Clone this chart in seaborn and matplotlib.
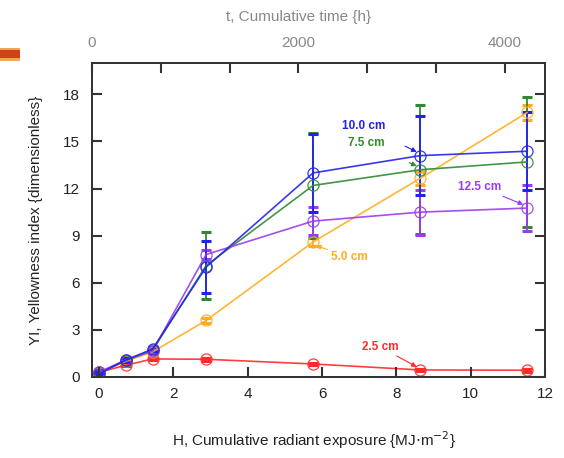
import numpy as np
import pandas as pd
import matplotlib
matplotlib.use("Agg")
import matplotlib.pyplot as plt
from matplotlib.patches import Rectangle
import seaborn as sns

# ---- data ----
H = [0.0, 0.72, 1.44, 2.88, 5.76, 8.64, 11.52]
series_names = ["2.5 cm", "5.0 cm", "7.5 cm", "12.5 cm", "10.0 cm"]
y_25 = [0.30, 0.75, 1.15, 1.13, 0.83, 0.45, 0.43]
e_25 = [0.05, 0.05, 0.08, 0.10, 0.08, 0.08, 0.08]
y_50 = [0.25, 1.00, 1.60, 3.60, 8.60, 12.65, 16.85]
e_50 = [0.10, 0.10, 0.10, 0.15, 0.25, 0.45, 0.45]
y_75 = [0.30, 1.05, 1.70, 7.10, 12.20, 13.20, 13.70]
e_75 = [0.10, 0.10, 0.15, 2.15, 3.35, 4.10, 4.15]
y_125 = [0.30, 1.10, 1.65, 7.80, 9.93, 10.50, 10.76]
e_125 = [0.10, 0.10, 0.10, 0.30, 0.90, 1.43, 1.45]
y_100 = [0.20, 1.08, 1.78, 7.00, 13.00, 14.10, 14.38]
e_100 = [0.10, 0.10, 0.15, 1.64, 2.50, 2.50, 2.50]
x_ticks = [0, 2, 4, 6, 8, 10, 12]
y_ticks = [0, 3, 6, 9, 12, 15, 18]
t_ticks = [0, 2000, 4000]
t_minor = [0, 2000/3, 4000/3, 2000, 8000/3, 10000/3, 4000]

colors = {"2.5 cm": "#ff2a2a", "5.0 cm": "#ffad1f", "7.5 cm": "#2f8a2f",
          "12.5 cm": "#9b3bf0", "10.0 cm": "#2222ee"}
ys = {"2.5 cm": y_25, "5.0 cm": y_50, "7.5 cm": y_75, "12.5 cm": y_125, "10.0 cm": y_100}
es = {"2.5 cm": e_25, "5.0 cm": e_50, "7.5 cm": e_75, "12.5 cm": e_125, "10.0 cm": e_100}

df = pd.DataFrame([(h, s, v, e) for s in series_names for h, v, e in zip(H, ys[s], es[s])],
                  columns=["H", "series", "YI", "err"])

sns.set_style("ticks", {"xtick.direction": "in", "ytick.direction": "in"})
plt.rcParams["font.family"] = ["Liberation Sans", "DejaVu Sans"]

fig = plt.figure(figsize=(5.64, 4.58), dpi=100)
ax = fig.add_axes([92/564, 1-377/458, 453/564, 314/458])

for s in series_names:
    d = df[df.series == s]
    ax.errorbar(d.H, d.YI, yerr=d.err, fmt="none", ecolor=colors[s],
                elinewidth=1.3, capsize=3.3, capthick=2.2, zorder=2)
    sns.lineplot(data=d, x="H", y="YI", color=colors[s], ax=ax, lw=1.2,
                 marker="o", markersize=8, markerfacecolor="none",
                 markeredgecolor=colors[s], markeredgewidth=0.9, alpha=0.9,
                 errorbar=None, legend=False, zorder=3)

ax.set_xlim(-0.19, 12)
ax.set_ylim(0, 20)
ax.set_xticks(x_ticks)
ax.set_yticks(y_ticks)
for sp in ax.spines.values():
    sp.set_color("#333333")
    sp.set_linewidth(1.3)

ax.set_xlabel("H, Cumulative radiant exposure {MJ$\\cdot$m$^{-2}$}", fontsize=11, color="#222222")
ax.set_ylabel("YI, Yellowness index {dimensionless}", fontsize=11, color="#222222")
ax.xaxis.set_label_coords(0.49, -0.165)
ax.yaxis.set_label_coords(-0.108, 0.5)

ax2 = ax.twiny()
ax2.set_xlim(0, 4390)
ax2.set_xticks(t_ticks)
ax2.set_xlabel("t, Cumulative time {h}", fontsize=11, color="#888888")
ax2.xaxis.set_label_coords(0.455, 1.135)
for sp in ax2.spines.values():
    sp.set_color("#333333")
    sp.set_linewidth(1.3)

ax.tick_params(axis="x", which="major", direction="in", length=0,
               labelcolor="#222222", labelsize=11, pad=7)
ax.tick_params(axis="y", which="major", direction="in", length=0,
               labelcolor="#222222", labelsize=11, pad=9)
ax2.tick_params(axis="x", which="both", direction="in", length=0,
                labelcolor="#888888", labelsize=11, pad=9)

# inward tick marks drawn at the tick positions through the axis transforms
tick_kw = dict(colors="#333333", linewidths=1.5, clip_on=False, zorder=10)
ax.vlines(x_ticks, 0, 0.032, transform=ax.get_xaxis_transform(), **tick_kw)
ax.hlines(y_ticks, 0, 0.022, transform=ax.get_yaxis_transform(), **tick_kw)
ax.hlines(y_ticks, 1 - 0.022, 1, transform=ax.get_yaxis_transform(), **tick_kw)
ax2.vlines(t_minor, 1 - 0.032, 1, transform=ax2.get_xaxis_transform(), **tick_kw)

# annotations
ann = [
    ("10.0 cm", (7.13, 16.0), (8.58, 14.3)),
    ("7.5 cm", (7.18, 14.9), (8.58, 13.4)),
    ("12.5 cm", (10.25, 12.1), (11.45, 10.95)),
    ("5.0 cm", (6.73, 7.64), (5.8, 8.4)),
    ("2.5 cm", (7.56, 1.93), (8.58, 0.6)),
]
for txt, xyt, xy in ann:
    ax.annotate(txt, xy=xy, xytext=xyt, color=colors[txt], fontsize=8.5,
                fontweight="bold", ha="center", va="center",
                arrowprops=dict(arrowstyle="-|>", color=colors[txt], lw=0.8,
                                mutation_scale=7, shrinkA=18 if txt != "5.0 cm" else 12,
                                shrinkB=1), zorder=5)

# decoration bar at top-left
fig.patches.append(Rectangle((0, 1-61/458), 20/564, 13/458, transform=fig.transFigure,
                             facecolor="#f2a55a", edgecolor="none"))
fig.patches.append(Rectangle((0, 1-58.5/458), 20/564, 8/458, transform=fig.transFigure,
                             facecolor="#cf4116", edgecolor="none"))

fig.savefig("out.png", dpi=100)
